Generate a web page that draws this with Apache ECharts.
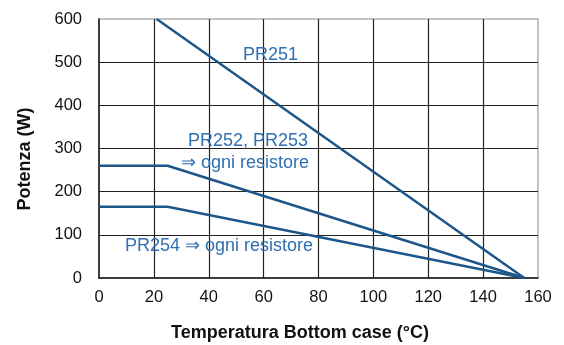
<!DOCTYPE html>
<html>
<head>
<meta charset="utf-8">
<script src="https://cdn.jsdelivr.net/npm/echarts@6/dist/echarts.min.js"></script>
<style>
html,body{margin:0;padding:0;background:#fff;}
#c{width:564px;height:345px;}
</style>
</head>
<body>
<div id="c"></div>
<script>
var xTicks = [0, 20, 40, 60, 80, 100, 120, 140, 160];
var yTicks = [0, 100, 200, 300, 400, 500, 600];
var temps251 = [21, 155];
var power251 = [600, 0];
var temps252 = [0, 25, 155];
var power252 = [260, 260, 0];
var temps254 = [0, 25, 155];
var power254 = [165, 165, 0];
var xTitle = 'Temperatura Bottom case (°C)';
var yTitle = 'Potenza (W)';
var annot = ['PR251', 'PR252, PR253', '\u21D2 ogni resistore', 'PR254 \u21D2 ogni resistore'];

function pairs(xs, ys) { return xs.map(function (x, i) { return [x, ys[i]]; }); }

var lineColor = '#1d5789';
var textColor = '#2f6fb3';
var font = '"Liberation Sans", Arial, sans-serif';

var chart = echarts.init(document.getElementById('c'));
var lineStyle = { color: lineColor, width: 2.5 };
chart.setOption({
  animation: false,
  grid: { left: 99, right: 26, top: 19, bottom: 67, show: true, borderColor: '#b0b0b0', borderWidth: 1.5 },
  xAxis: {
    type: 'value', min: xTicks[0], max: xTicks[xTicks.length - 1], interval: 20,
    axisLine: { show: true, lineStyle: { color: '#111', width: 1.5 } },
    axisTick: { show: false },
    axisLabel: { fontFamily: font, fontSize: 16.5, color: '#111', margin: 11 },
    splitLine: { show: true, showMinLine: false, showMaxLine: false, lineStyle: { color: '#222', width: 1.2 } }
  },
  yAxis: {
    type: 'value', min: yTicks[0], max: yTicks[yTicks.length - 1], interval: 100,
    axisLine: { show: true, lineStyle: { color: '#111', width: 1.5 } },
    axisTick: { show: false },
    axisLabel: { fontFamily: font, fontSize: 16.5, color: '#111', margin: 17 },
    splitLine: { show: true, showMinLine: false, showMaxLine: false, lineStyle: { color: '#222', width: 1.2 } }
  },
  series: [
    { name: 'PR251', type: 'line', data: pairs(temps251, power251), symbol: 'none', lineStyle: lineStyle, clip: true, z: 3 },
    { name: 'PR252', type: 'line', data: pairs(temps252, power252), symbol: 'none', lineStyle: lineStyle, clip: true, z: 3 },
    { name: 'PR254', type: 'line', data: pairs(temps254, power254), symbol: 'none', lineStyle: lineStyle, clip: true, z: 3 }
  ],
  graphic: [
    { type: 'text', left: 243, top: 46, z: 1, style: { text: annot[0], fill: textColor, font: '18px ' + font } },
    { type: 'text', left: 188, top: 132, z: 1, style: { text: annot[1], fill: textColor, font: '18px ' + font } },
    { type: 'text', left: 181, top: 154, z: 1, style: { text: annot[2], fill: textColor, font: '18px ' + font } },
    { type: 'text', left: 125, top: 237, z: 1, style: { text: annot[3], fill: textColor, font: '18px ' + font } },
    { type: 'text', x: 300, y: 333, z: 1, style: { text: xTitle, fill: '#111', font: 'bold 18px ' + font, align: 'center', verticalAlign: 'middle' } },
    { type: 'text', x: 25, y: 159, rotation: Math.PI / 2, z: 1, style: { text: yTitle, fill: '#111', font: 'bold 18px ' + font, align: 'center', verticalAlign: 'middle' } }
  ]
});
</script>
</body>
</html>
